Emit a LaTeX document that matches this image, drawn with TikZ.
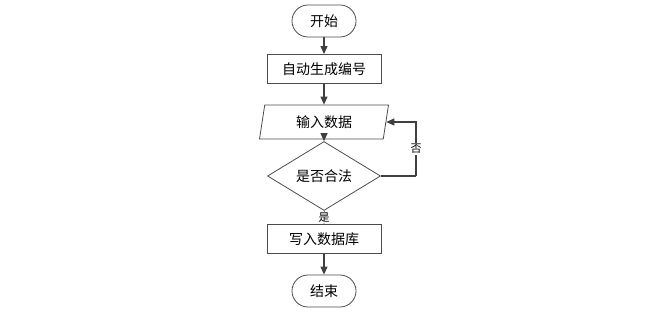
\documentclass[tikz,border=0pt]{standalone}
\usepackage{fontspec}
\setmainfont{Noto Sans CJK SC}
\usetikzlibrary{positioning,shapes.geometric,arrows.meta}

\tikzset{
  flowline/.style={draw=black!75,line width=1.1pt,-{Triangle[width=7pt,length=8pt]}},
  thinline/.style={draw=black!45,line width=0.5pt,-{Triangle[width=3pt,length=3pt]}},
  terminal/.style={draw=black!70,line width=0.8pt,rectangle,rounded corners=16pt,
    minimum width=64pt,minimum height=32pt,inner sep=0pt},
  process/.style={draw=black!70,line width=0.8pt,rectangle,
    minimum width=114pt,minimum height=29pt,inner sep=0pt},
  iobox/.style={draw=black!70,line width=0.8pt,trapezium,trapezium left angle=68,
    trapezium right angle=112,trapezium stretches body,
    minimum width=129pt,minimum height=34pt,inner sep=0pt},
  decision/.style={draw=black!70,line width=0.8pt,diamond,
    minimum width=113pt,minimum height=40pt,inner sep=0pt},
  tag/.style={fill=white,inner sep=1pt,font=\fontsize{11}{12}\selectfont}
}

\begin{document}
\begin{tikzpicture}[x=1pt,y=-1pt,node distance=50pt,on grid,
    font=\fontsize{14}{16}\selectfont]
    \useasboundingbox (0,0) rectangle (664,315);

    \node[terminal] (start) at (324,21) {开始};
    \node[process] (gen) [below=48pt of start] {自动生成编号};
    \node[iobox] (input) [below=53pt of gen] {输入数据};
    \node[decision] (check) [below=54pt of input] {是否合法};
    \node[process] (write) [below=63pt of check] {写入数据库};
    \node[terminal] (stop) [below=52pt of write] {结束};
    \coordinate (back) at (416,176);

    \path[flowline] (start) -- (gen);
    \path[flowline] (gen) -- (input);
    \path[flowline] (input) -- (check);
    \path[thinline] (check) -- node[tag] {是} (write);
    \path[flowline] (write) -- (stop);
    \path[flowline,-] (check.east) -- (back);
    \path[flowline] (back) -- node[tag] {否} (back |- input.east) -- (input.east);
\end{tikzpicture}
\end{document}
